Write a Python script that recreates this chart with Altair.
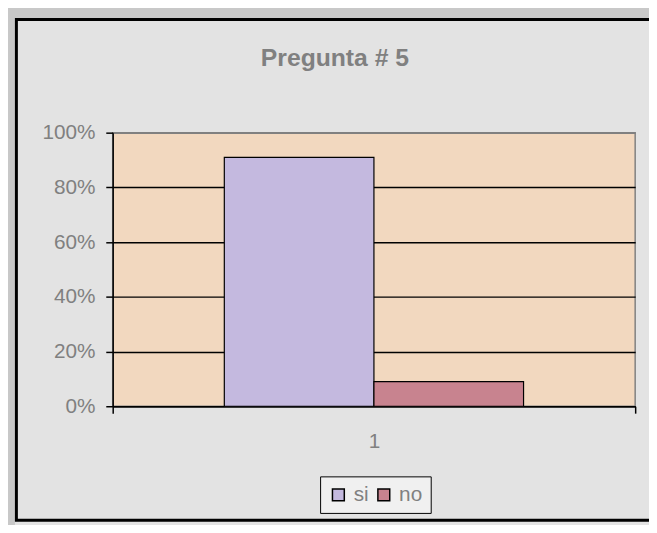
import altair as alt
import pandas as pd

# data
categories = ["1", "1"]
series = ["si", "no"]
values = [0.91, 0.09]
y_ticks = [0, 0.2, 0.4, 0.6, 0.8, 1.0]
colors = ["#c4b9df", "#c8838f"]
title_text = ["Pregunta # 5"]

df = pd.DataFrame({"cat": categories, "serie": series, "valor": values})

FONT = "Liberation Sans"
GRAY = "#808080"

bars = alt.Chart(df).mark_bar(stroke="black", strokeWidth=1.2).encode(
    x=alt.X("cat:N", title=None,
            scale=alt.Scale(paddingInner=0, paddingOuter=0),
            axis=alt.Axis(labelAngle=0, tickBand="extent", tickSize=7,
                          tickColor="black", tickWidth=1.5,
                          domainColor="black", domainWidth=1.5,
                          labelFont=FONT, labelFontSize=21, labelColor=GRAY,
                          labelPadding=18, grid=False)),
    xOffset=alt.XOffset("serie:N", sort=series,
                        scale=alt.Scale(paddingInner=0, paddingOuter=0.746)),
    y=alt.Y("valor:Q", title=None,
            scale=alt.Scale(domain=[0, 1]),
            axis=alt.Axis(values=y_ticks, format=".0%", tickSize=7,
                          tickColor="black", tickWidth=1.5,
                          domainColor="black", domainWidth=1.5,
                          gridColor={"condition": {"test": "datum.value >= 1", "value": GRAY},
                                     "value": "black"},
                          gridWidth=1.5,
                          labelFont=FONT, labelFontSize=21, labelColor=GRAY,
                          labelPadding=11)),
    color=alt.Color("serie:N", sort=series,
                    scale=alt.Scale(domain=series, range=colors),
                    legend=alt.Legend(title=None, orient="none", legendX=210, legendY=348,
                                      direction="horizontal", fillColor="#f0f0f0",
                                      strokeColor="black", padding=8,
                                      symbolType="square", symbolSize=144,
                                      symbolStrokeColor="black", symbolStrokeWidth=1.5,
                                      labelFont=FONT, labelFontSize=21, labelColor=GRAY,
                                      labelOffset=5, columnPadding=4)),
)

one = alt.Data(values=[{}])
gray_frame = alt.Chart(one).mark_rect(filled=False, stroke="#c8c8c8", strokeWidth=14).encode(
    x=alt.value(-106), x2=alt.value(800), y=alt.value(-123), y2=alt.value(800))
black_frame = alt.Chart(one).mark_rect(filled=False, stroke="black", strokeWidth=3).encode(
    x=alt.value(-97.5), x2=alt.value(800), y=alt.value(-114.5), y2=alt.value(392.5))
title = alt.Chart(alt.Data(values=[{"t": t} for t in title_text])).mark_text(
    font=FONT, fontSize=25, fontWeight="bold", color=GRAY,
    align="center", baseline="alphabetic").encode(
    text="t:N", x=alt.value(225), y=alt.value(-67.7))

chart = alt.layer(gray_frame, black_frame, title, bars).properties(
    width=529, height=277,
    autosize=alt.AutoSizeParams(type="none"),
    padding={"left": 106, "top": 123, "right": 14, "bottom": 117},
    background="#e3e3e3",
).configure_view(fill="#f2d8bf", stroke=GRAY, strokeWidth=1.5)

chart.save("out.html", embed_options={"renderer": "svg", "actions": False})
